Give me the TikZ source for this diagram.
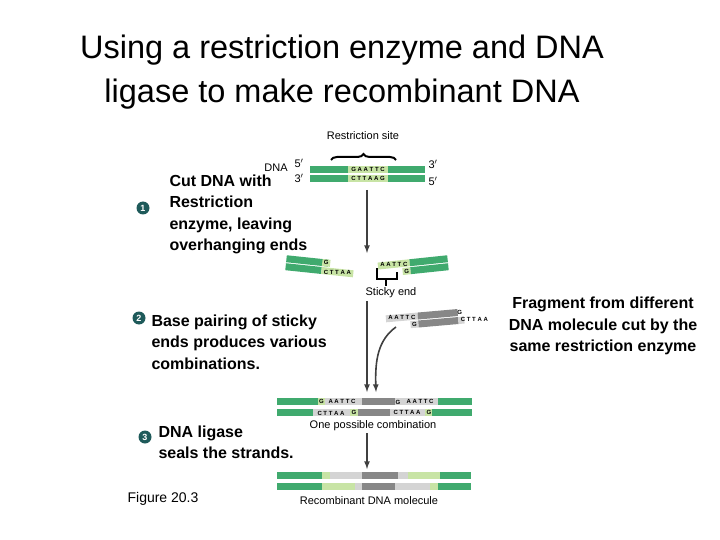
\documentclass[tikz,border=0pt]{standalone}
\usepackage{fontspec}
\setmainfont{Liberation Sans}
\usetikzlibrary{decorations.pathreplacing,positioning}
\definecolor{dnagreen}{RGB}{64,170,110}
\definecolor{sitegreen}{RGB}{200,228,165}
\definecolor{sitegray}{RGB}{212,212,212}
\definecolor{fraggray}{RGB}{135,135,135}
\definecolor{stepteal}{RGB}{30,90,90}
\newcommand{\seg}[4]{\fill[#4] (#1,#3) rectangle (#2,#3+7);}
\begin{document}
\begin{tikzpicture}[x=1pt,y=-1pt,
  title/.style={font=\fontsize{32.5}{44}\selectfont,align=center},
  steptext/.style={font=\fontsize{16}{21.5}\selectfont\bfseries,align=left,anchor=north west},
  small/.style={font=\fontsize{11}{13}\selectfont},
  base/.style={font=\fontsize{6}{6}\selectfont\bfseries,inner sep=0pt},
  stepnum/.style={circle,fill=stepteal,text=white,inner sep=0pt,minimum size=13pt,font=\fontsize{9}{9}\selectfont\bfseries},
  arr/.style={-latex,line width=1.6pt,draw=black!75}]
\useasboundingbox (0,0) rectangle (720,540);
% title
\node[title] (title) at (342,72) {Using a restriction enzyme and DNA\\ligase to make recombinant DNA};
% original DNA
\node[small] (site) at (363,136) {Restriction site};
\draw[decorate,decoration={brace,amplitude=6pt},line width=2pt] (331,160) -- (396,160);
\seg{310}{425}{166}{dnagreen} \seg{348}{388}{166}{sitegreen}
\seg{310}{425}{175}{dnagreen} \seg{348}{388}{175}{sitegreen}
\node[base] at (368,169.5) {G A A T T C};
\node[base] at (368,178.5) {C T T A A G};
\node[small] (dna) at (276,168) {DNA};
\node[small] at (299,163) {5$'$};
\node[small] at (299,178) {3$'$};
\node[small] at (433,164) {3$'$};
\node[small] at (433,181) {5$'$};
\coordinate (cuttop) at (367,190);
\coordinate (cutbot) at (367,253);
\draw[arr] (cuttop) -- (cutbot);
% step 1
\node[stepnum] (s1) at (143,208) {1};
\node[steptext] (t1) at (166,171) {Cut DNA with\\Restriction\\enzyme, leaving\\overhanging ends};
% cut fragments
\begin{scope}[shift={(322,265)},rotate=-6]
  \fill[dnagreen] (-36,-6) rectangle (6,1); \fill[sitegreen] (0,-6) rectangle (8,1);
  \fill[dnagreen] (-36,2) rectangle (0,9); \fill[sitegreen] (0,2) rectangle (32,9);
  \node[base] at (4,-2.5) {G}; \node[base] at (16,5.5) {C T T A A};
\end{scope}
\begin{scope}[shift={(412,265)},rotate=6]
  \fill[sitegreen] (-34,-6) rectangle (-2,1); \fill[dnagreen] (-2,-6) rectangle (36,1);
  \fill[sitegreen] (-10,2) rectangle (-2,9); \fill[dnagreen] (-2,2) rectangle (36,9);
  \node[base] at (-18,-2.5) {A A T T C}; \node[base] at (-6,5.5) {G};
\end{scope}
\draw[line width=2pt] (377,268) -- (377,279) -- (397,279) -- (397,272);
\draw[line width=2pt] (386,279) -- (386,286);
\node[small] (sticky) at (391,293) {Sticky end};
% step 2
\node[stepnum] (s2) at (139,318) {2};
\node[steptext] (t2) at (148,311) {Base pairing of sticky\\ends produces various\\combinations.};
\begin{scope}[shift={(424,318)},rotate=5]
  \fill[sitegray] (-38,-6) rectangle (-6,1); \fill[fraggray] (-6,-6) rectangle (34,1);
  \fill[sitegray] (-14,2) rectangle (-6,9); \fill[fraggray] (-6,2) rectangle (34,9);
  \fill[sitegray] (34,2) rectangle (40,9);
  \node[base] at (-22,-2.5) {A A T T C}; \node[base] at (-10,5.5) {G};
  \node[base] at (36,-2.5) {G}; \node[base] at (50,6) {C T T A A};
\end{scope}
\node[steptext,align=center,anchor=center] (t4) at (603,326) {Fragment from different\\DNA molecule cut by the\\same restriction enzyme};
\coordinate (stickytop) at (367,301);
\coordinate (combtop) at (367,392);
\coordinate (fragend) at (396,327);
\coordinate (combtop2) at (376,392);
\draw[arr] (stickytop) -- (combtop);
\draw[arr] (fragend) .. controls (378,340) and (375,360) .. (combtop2);
% combination
\seg{277}{472}{398}{dnagreen}
\seg{318}{325}{398}{sitegreen} \seg{325}{362}{398}{sitegray} \seg{362}{395}{398}{fraggray}
\seg{395}{402}{398}{sitegray} \seg{402}{438}{398}{sitegray}
\seg{277}{472}{409}{dnagreen}
\seg{313}{350}{409}{sitegray} \seg{350}{358}{409}{sitegreen} \seg{358}{390}{409}{fraggray}
\seg{390}{425}{409}{sitegray} \seg{425}{432}{409}{sitegreen}
\node[base] at (321.5,401.5) {G}; \node[base] at (342,401.5) {A A T T C};
\node[base] at (398,402) {G}; \node[base] at (420,401.5) {A A T T C};
\node[base] at (331,413) {C T T A A}; \node[base] at (354,412.5) {G};
\node[base] at (407,412.5) {C T T A A}; \node[base] at (429,412.5) {G};
\node[small] (comb) at (373,426) {One possible combination};
\coordinate (combbot) at (367,433);
\coordinate (recomtop) at (367,469);
\draw[arr] (combbot) -- (recomtop);
% step 3
\node[stepnum] (s3) at (145,437) {3};
\node[steptext] (t3) at (155,422) {DNA ligase\\seals the strands.};
% recombinant
\seg{277}{471}{472}{dnagreen}
\seg{322}{330}{472}{sitegreen} \seg{330}{362}{472}{sitegray} \seg{362}{398}{472}{fraggray}
\seg{398}{408}{472}{sitegray} \seg{408}{440}{472}{sitegreen}
\seg{277}{471}{483}{dnagreen}
\seg{322}{355}{483}{sitegreen} \seg{355}{362}{483}{sitegray} \seg{362}{395}{483}{fraggray}
\seg{395}{430}{483}{sitegray} \seg{430}{438}{483}{sitegreen}
\node[small] (recom) at (369,501) {Recombinant DNA molecule};
\node[font=\fontsize{14}{16}\selectfont] (fig) at (163,499) {Figure 20.3};
\end{tikzpicture}
\end{document}
